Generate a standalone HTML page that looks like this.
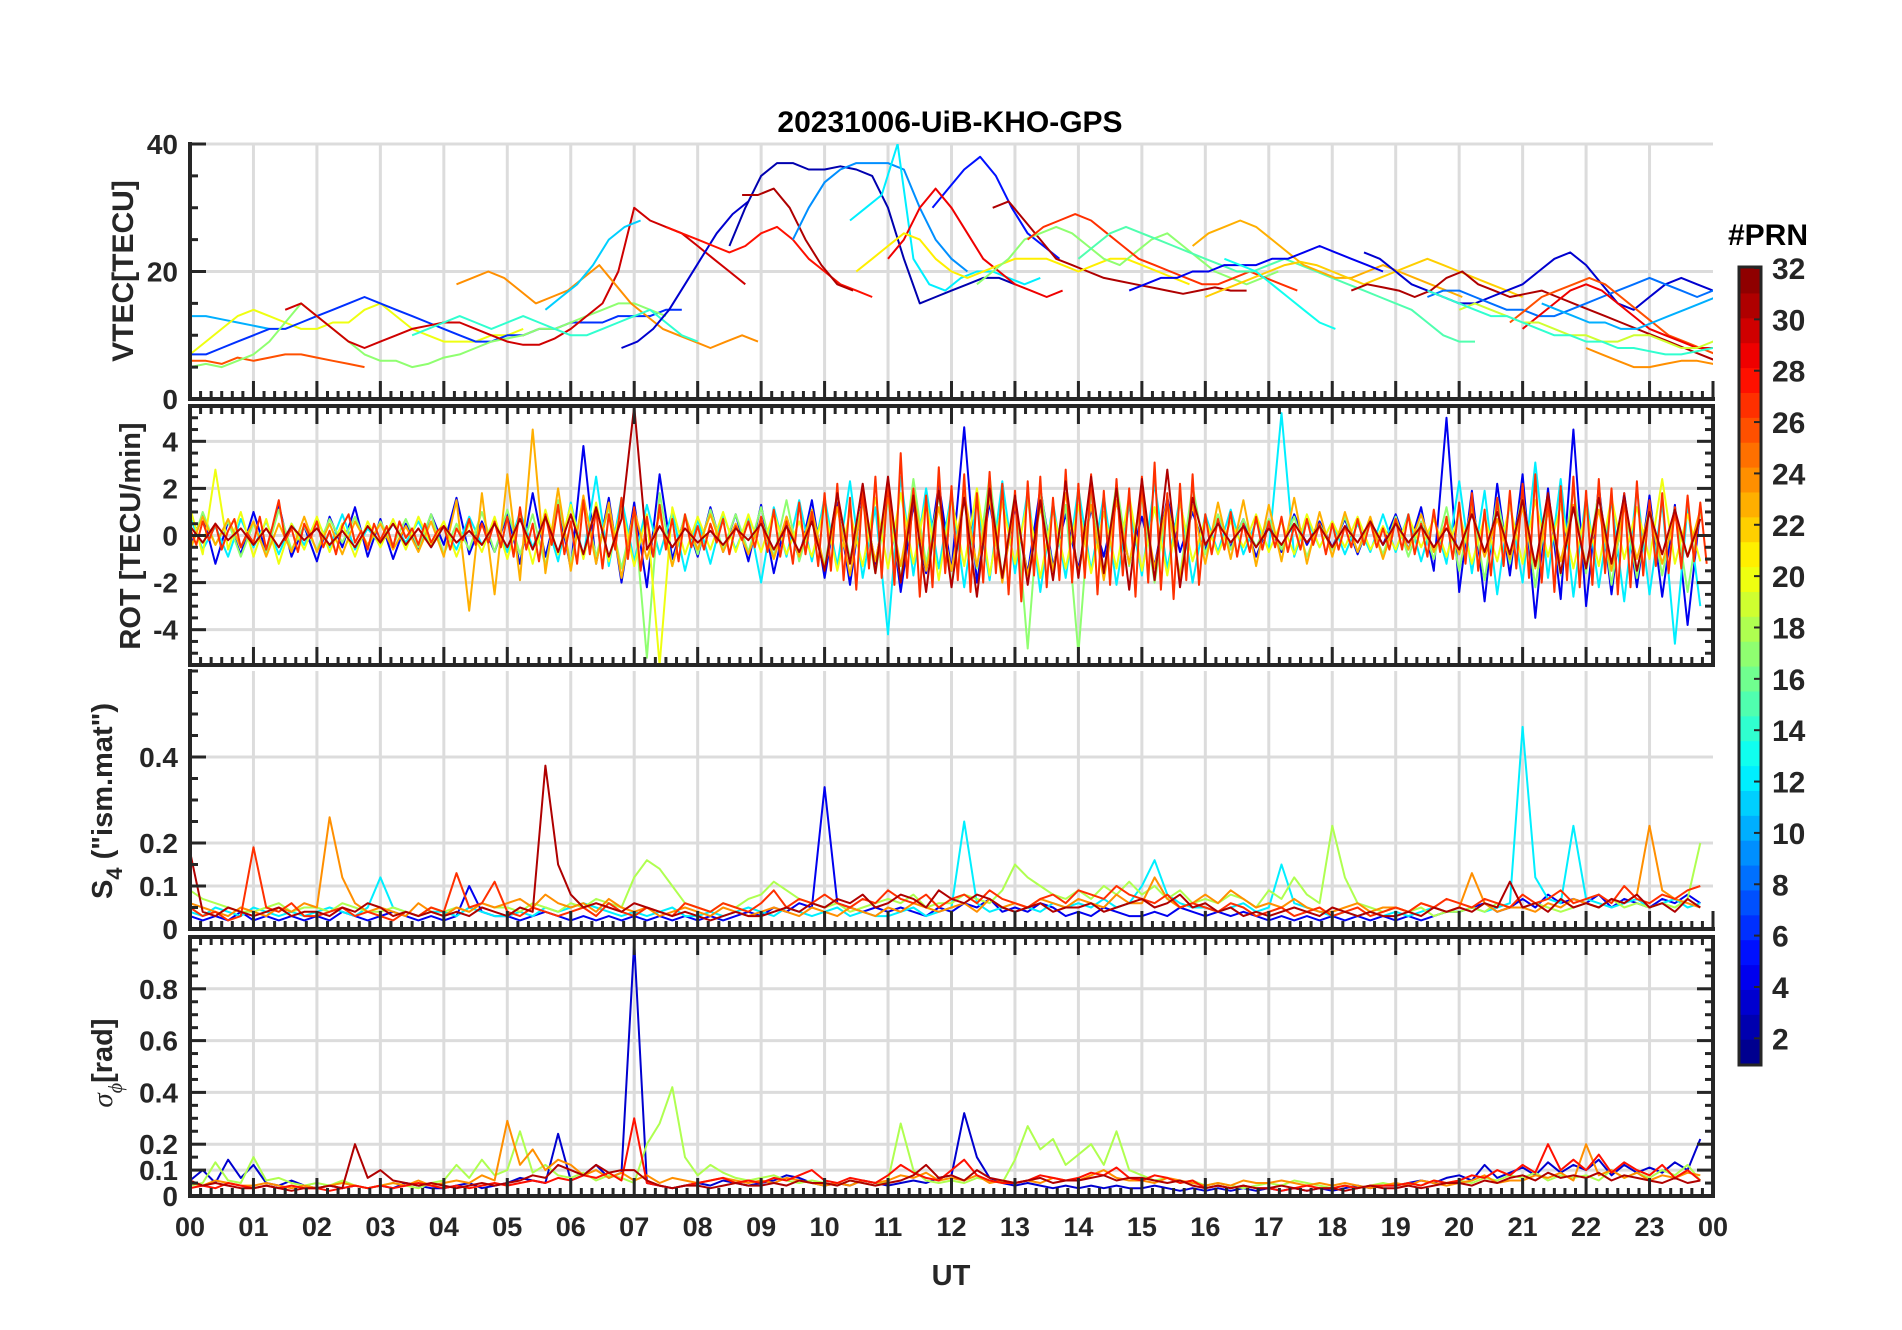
<!DOCTYPE html>
<html><head><meta charset="utf-8"><title>20231006-UiB-KHO-GPS</title>
<style>
html,body{margin:0;padding:0;background:#fff;}
svg{display:block;font-family:"Liberation Sans",Arial,sans-serif;}
</style></head>
<body>
<svg id="fig" width="1902" height="1330" viewBox="0 0 1902 1330" xmlns="http://www.w3.org/2000/svg">
<rect x="0" y="0" width="1902" height="1330" fill="#fff"/>
<text x="950" y="132" text-anchor="middle" font-size="30" font-weight="bold" fill="#000">20231006-UiB-KHO-GPS</text>
<g id="panels"></g>
<text x="951" y="1285" text-anchor="middle" font-size="29" font-weight="bold" fill="#262626">UT</text>
<text transform="translate(133,271) rotate(-90)" text-anchor="middle" font-size="30" font-weight="bold" fill="#262626">VTEC[TECU]</text>
<text transform="translate(140,536) rotate(-90)" text-anchor="middle" font-size="29" font-weight="bold" fill="#262626">ROT [TECU/min]</text>
<text transform="translate(112,801) rotate(-90)" text-anchor="middle" font-size="29" font-weight="bold" fill="#262626">S<tspan font-size="22" dy="10">4</tspan><tspan dy="-10"> ("ism.mat")</tspan></text>
<text transform="translate(112,1063) rotate(-90)" text-anchor="middle" font-size="29" font-weight="bold" fill="#262626"><tspan font-family="Liberation Serif,serif" font-style="italic" font-weight="normal">σ</tspan><tspan font-family="Liberation Serif,serif" font-style="italic" font-weight="normal" font-size="20" dy="10">ϕ</tspan><tspan dy="-10">[rad]</tspan></text>
<g id="colorbar"></g>
<text x="1768" y="245" text-anchor="middle" font-size="30" font-weight="bold" fill="#000">#PRN</text>
</svg>
<script>
// ---------------- data ----------------
const hourLabels = ["00","01","02","03","04","05","06","07","08","09","10","11","12","13","14","15","16","17","18","19","20","21","22","23","00"];
const vtecTicks = [0,20,40];
const rotTicks = [-4,-2,0,2,4];
const s4Ticks = [0,0.1,0.2,0.4];
const sigTicks = [0,0.1,0.2,0.4,0.6,0.8];
const prnTicks = [2,4,6,8,10,12,14,16,18,20,22,24,26,28,30,32];

// VTEC arcs: PRN, start hour, values (every 0.25 h)
const vtecPrn = [10,20,6,26,17,30,24,11,14,3,2,28,31,9,12,5,29,31,21,17,27,15,23,4,22,13,31,3,8,26,29,19,10,24,14];
const vtecStart = [0,0,0,0,0,1.5,4.2,5.6,3.5,6.8,8.5,7.5,8.7,9.5,10.4,11.7,11,12.65,10.5,12.4,13.2,14,15.8,14.8,16,16.3,18.3,18.5,19.5,20.8,21,20,21.3,22,19.5];
const vtecValues = [
[13,13,12.5,12,11.5,11],
[7,9,11,13,14,13,12,11,11,12,12,14,15,13,11,10,9,9,9,10,10,11],
[7,7,8,9,10,11,11,12,13,14,15,16,15,14,13,12,11,10,9,9,10,10,11,11,12,12,12,13,13,13,14,14],
[6,6,5.5,6.5,6,6.5,7,7,6.5,6,5.5,5],
[5,5.5,5,6,7,9,12,15,13,11,9,7,6,6,5,5.5,6.5,7,8,9,9.5,10,11,11,12,13,14,15,15,14,13],
[14,15,13,11,9,8,9,10,11,11.5,12,12,11,10,9,8.5,8.5,9.5,11,13,15,20,30,28,27,26,24,22,20,18],
[18,19,20,19,17,15,16,17,19,21,18,15,13,11,10,9,8,9,10,9],
[14,16,18,21,25,27,28],
[10,11,12,13,12,11,12,13,12,11,10,10,11,12,13,14,12,10,9],
[8,9,11,14,18,22,26,29,31],
[24,30,35,37,37,36,36,36.5,36,35,30,22,15,16,17,18,19,19,18],
[27,26,25,24,23,24,26,27,25,22,20,18,17,16],
[32,32,33,30,25,21,18,17],
[25,30,34,36,37,37,37,36,30,25,22,20],
[28,30,32,40,22,18,17,19,20,20,19,18,19],
[30,33,36,38,35,30,26,24,22],
[22,25,30,33,30,26,22,20,18,17,16,17],
[30,31,28,25,22,21,20,19,18.5,18,17.5,17,16.5,17,17.5,17,17],
[20,22,24,26,25,22,20,19,20,21,22,22,22,21,20,21,22,22,21,20,19,18],
[18,20,22,25,26,27,26,24,22,21,23,25,26,24,22,20,19,18,19,20],
[25,27,28,29,28,26,24,22,21,20,19,18,18,19,20,19,18,17],
[22,24,26,27,26,25,24,23,22,21,20,20,21,22,21,20,19,18,17,16,15,14,12,10,9,9],
[24,26,27,28,27,25,23,21,20,19,19,20,21,20,19,18,17,16],
[17,18,19,19,20,20,21,21,21,22,22,23,24,23,22,21,20],
[16,17,18,19,20,21,21.5,21,20,19,18,19,20,21,22,21,20,19,18,17,16],
[22,21,20,18,16,14,12,11],
[17,18,17.5,17,16,17,19,20,18,17,16,16.5,17,16,15,14,13,12,11,10,9,8,7,6,5,5,4,5,5,6,6,6,6],
[23,22,20,18,17,16,15,15,16,17,18,20,22,23,21,18,15,14,16,18,19,18,17,16,15,16,17,18,19,17,14,12],
[16,17,17,16,15,14,14,13,13,14,15,16,17,18,19,18,17,16,17,18,18,17,16,14,12,10],
[12,14,16,17,18,19,18,16,14,12,10,9,8,7,7,6,6,7,7,8],
[11,13,15,17,18,17,15,13,11,10,9,8,8,7.5,7,7,6.5,6],
[14,15,14,13,12,12,11,10,10,9,9,10,10,9,8,8,9,10,11,12],
[15,14,13,12,12,11,11,12,13,14,15,16,15,14,12,11,10,9,8,8.5],
[8,7,6,5,5,5.5,6,6,5.5,6,7,8,9,9,9,8],
[17,16,15,14,13,13,12,11,10,10,9,9,8,8,7.5,7,7,7.5,8,8.5]
];

// ROT series (TECU/min)
const rotPrn = [4,12,17,20,23,27,31];
const rotStep = [0.2,0.2,0.2,0.2,0.2,0.1,0.2];
const rotBlue = [-0.5,0.9,-1.2,0.6,-0.8, 1.0,-0.7,1.3,-0.9,0.4, -1.1,0.8,-0.5,1.2,-0.9, 0.7,-1.0,0.5,-0.6,0.9, -0.4,1.6,-0.8,0.6,-0.7, 0.9,-1.2,1.8,-0.9,1.3, -1.4,3.8,-1.2,1.6,-2.0, 1.4,-2.2,2.6,-1.0,0.8, -0.9,1.2,-0.7,0.9,-1.1, 1.3,-1.6,0.8,-1.0,1.5, -1.8,1.4,-2.1,1.7,-1.2, 1.9,-2.4,1.3,-1.6,2.2, -1.5,4.6,-2.0,1.4,-1.8, 1.2,-1.6,2.0,-1.3,0.9, -1.4,1.1,-0.9,1.5,-1.2, 0.8,-1.3,1.6,-0.7,1.0, -0.6,0.8,-0.5,0.7,-0.9, 0.5,-0.7,0.9,-0.4,0.6, -0.5,0.7,-0.8,0.6,-0.4, 0.9,-0.6,1.2,-1.5,5.0, -2.4,1.9,-2.8,2.2,-1.7, 2.6,-3.5,2.0,-2.7,4.5, -3.0,2.1,-2.5,1.8,-2.2, 1.7,-2.6,1.3,-3.8,1.1];
const rotCyan = [0.8,-0.6,0.4,-0.9,0.7, -0.5,0.6,-0.8,0.5,-0.4, 0.7,-0.5,0.9,-0.6,0.3, -0.4,0.5,-0.3,0.6,-0.5, 0.4,-0.6,0.8,-0.4,0.5, -0.7,1.0,-0.5,0.8,-1.1, 1.4,-0.9,2.5,-1.3,1.6, -1.1,1.3,-0.8,1.0,-1.5, 0.7,-1.2,0.9,-0.6,0.8, -2.0,1.2,-0.9,1.5,-1.1, 1.6,-1.3,2.3,-1.8,1.2, -4.2,2.5,-1.7,2.0,-1.4, 1.8,-2.2,1.5,-1.9,2.3, -1.6,1.9,-2.4,1.4,-1.8, 2.0,-1.5,1.7,-2.1,1.3, -1.7,2.2,-1.4,1.6,-2.0, 0.9,-0.7,1.1,-0.8,0.6, -0.6,5.2,-0.9,0.7,-0.5, 0.6,-0.8,0.5,-0.7,0.9, -0.7,0.9,-1.1,0.8,-1.2, 2.3,-1.6,1.9,-2.5,1.4, -2.0,3.1,-1.8,2.4,-2.6, 1.7,-2.2,1.5,-2.8,2.0, -2.5,1.4,-4.6,1.2,-3.0];
const rotGreen = [-0.7,1.0,-0.4,0.6,-0.9, 0.5,-0.8,1.1,-0.6,0.4, -0.6,0.7,-0.3,0.8,-0.5, 0.6,-0.4,0.7,-0.5,0.9, -0.8,0.5,-0.6,1.0,-0.7, 1.1,-0.8,0.9,-1.3,1.5, -1.2,1.6,-0.9,1.2,-1.4, 1.0,-5.2,1.8,-1.3,0.9, -0.8,1.1,-0.6,0.9,-0.7, 1.2,-0.9,1.5,-1.1,0.8, -1.3,1.7,-1.0,1.4,-1.6, 1.5,-1.9,2.4,-1.2,1.7, -2.1,1.6,-1.4,2.5,-1.8, 1.8,-4.8,2.0,-1.5,1.3, -5.0,1.9,-1.6,2.2,-1.3, 1.6,-2.0,1.3,-1.7,2.1, -0.8,0.9,-0.6,0.7,-0.5, 0.7,-0.6,0.8,-0.9,0.5, -0.6,0.8,-0.7,0.5,-0.8, 0.8,-0.9,0.6,-1.0,1.2, -1.5,1.3,-1.9,1.6,-1.2, 1.8,-2.2,1.5,-1.7,2.0, -1.6,1.9,-2.1,1.4,-1.8, 1.3,-1.7,1.2,-2.4,1.0];
const rotYellow = [1.2,-0.8,2.8,-0.6,1.0, -0.9,0.7,-1.2,0.5,-0.6, 0.8,-0.7,0.5,-0.9,0.6, -0.5,0.7,-0.6,0.8,-0.4, 0.6,-0.9,0.5,-0.7,0.8, -1.0,0.9,-1.2,1.1,-0.8, 1.3,-1.0,1.4,-1.1,1.2, -1.3,0.9,-5.5,1.2,-0.8, 0.8,-0.6,1.0,-0.7,0.9, -0.7,1.0,-0.8,0.6,-0.9, 1.2,-1.5,1.0,-1.3,1.6, -1.4,1.8,-1.2,1.5,-1.9, 1.6,-1.3,2.0,-1.7,1.4, -1.2,1.5,-1.8,1.1,-1.4, 1.3,-1.6,1.0,-1.4,1.7, -1.5,1.2,-1.7,1.4,-1.1, 0.7,-0.8,0.6,-0.5,0.9, -0.7,0.6,-0.8,0.9,-0.5, 0.6,-0.5,0.8,-0.6,0.4, -0.6,0.8,-0.5,0.7,-0.9, 1.0,-1.2,0.8,-1.1,1.3, -1.2,1.5,-0.9,1.3,-1.4, 1.1,-1.3,1.6,-1.0,1.2, -1.0,2.4,-1.2,0.9,-1.1];
const rotOrange = [-0.6,0.8,-0.4,0.7,-0.5, 0.6,-0.9,0.5,-0.7,0.8, -0.7,0.5,-0.8,0.6,-0.4, 0.5,-0.6,0.4,-0.7,0.6, -0.9,1.5,-3.2,1.8,-2.5, 2.6,-1.9,4.5,-1.6,2.0, -1.5,1.7,-1.2,1.4,-1.8, 1.1,-1.0,0.9,-1.3,0.8, -0.6,0.9,-0.7,0.5,-0.8, 0.7,-1.0,0.8,-0.9,1.1, -1.4,1.2,-1.7,1.5,-1.1, 1.6,-1.3,1.9,-1.5,1.2, -1.5,1.8,-1.3,1.6,-2.0, 1.4,-1.7,1.2,-1.5,1.8, -1.6,1.3,-1.9,1.5,-1.2, 1.7,-1.4,1.5,-1.8,1.3, -1.2,1.4,-1.0,1.5,-1.3, 1.3,-1.1,1.6,-1.2,1.0, -0.9,1.0,-0.7,0.8,-1.0, 0.7,-0.6,0.9,-0.7,0.6, -0.8,1.1,-0.9,0.7,-1.0, 1.2,-1.4,1.0,-1.1,1.3, -1.3,1.1,-1.5,1.2,-1.0, 1.0,-1.2,0.8,-0.9,1.1];
const rotRed = [0.3,-0.4,0.6,-0.2,0.5,-0.6,0.2,0.7,-0.5,0.1, -0.3,0.8,-0.6,0.4,1.5,-0.2,0.3,-0.7,0.5,-0.1, 0.6,-0.5,0.2,-0.8,0.4,0.9,-0.3,0.2,-0.6,0.5, -0.2,0.4,-0.5,0.6,-0.1,0.3,-0.4,0.5,-0.3,0.2, 0.4,-0.6,0.3,-0.2,0.7,-0.4,0.5,-0.3,0.6,-0.5, 0.8,-0.9,1.2,-0.6,0.5,-1.1,0.9,-0.4,1.3,-0.8, 0.6,-1.2,1.5,-0.8,1.1,-1.4,0.9,-0.6,1.6,-1.0, 1.2,-1.5,0.8,-0.9,1.3,-0.6,0.7,-1.1,0.9,-0.5, 0.4,-0.6,0.5,-0.3,0.7,-0.8,0.4,-0.2,0.6,-0.5, 0.8,-0.7,1.1,-0.9,0.6,-1.2,1.4,-0.8,1.0,-1.3, 1.8,-1.5,2.2,-1.9,1.6,-2.3,2.0,-1.4,2.5,-1.8, 2.4,-2.1,3.5,-1.8,2.0,-2.6,1.7,-2.2,2.9,-1.6, 2.1,-1.9,2.6,-2.4,1.8,-2.0,2.7,-1.6,2.2,-2.5, 1.9,-2.8,2.3,-1.7,2.5,-2.2,1.6,-1.9,2.8,-2.0, 2.2,-1.8,2.6,-2.5,1.9,-2.1,2.4,-1.7,2.0,-2.6, 2.5,-2.0,3.1,-2.3,1.8,-2.7,2.2,-1.9,2.6,-2.1, 0.9,-0.8,0.7,-0.6,1.0,-0.9,0.5,-0.7,0.8,-0.6, 0.6,-0.5,0.8,-0.7,0.4,-0.6,0.7,-0.4,0.5,-0.8, 0.5,-0.6,0.4,-0.5,0.7,-0.4,0.6,-0.5,0.3,-0.6, 0.7,-0.6,0.9,-0.8,0.5,-0.9,1.1,-0.7,0.8,-1.0, 1.4,-1.2,1.8,-1.5,1.1,-1.7,1.6,-1.3,1.9,-1.4, 2.2,-1.8,2.6,-2.0,1.7,-2.4,2.1,-1.9,2.5,-2.2, 1.9,-2.1,2.4,-1.6,2.0,-2.5,1.8,-2.2,2.3,-1.7, 1.5,-1.3,1.8,-1.6,1.2,-1.4,1.7,-1.1,1.4,-1.2];
const rotDarkRed = [0.4,-0.3,0.5,-0.2,0.3, -0.4,0.3,-0.5,0.4,-0.2, 0.3,-0.4,0.2,-0.5,0.4, -0.3,0.5,-0.4,0.3,-0.5, 0.4,-0.3,0.2,-0.4,0.5, -0.5,0.7,-0.6,0.8,-0.7, 0.9,-0.8,1.2,-0.9,0.7, 5.5,-0.6,0.4,-0.5,0.3, -0.3,0.2,-0.4,0.3,-0.2, 0.5,-0.6,0.4,-0.7,0.6, -1.5,1.8,-1.2,2.2,-1.6, 2.5,-2.0,1.7,-2.4,1.9, -2.2,1.6,-2.6,2.0,-1.8, 1.7,-2.1,1.5,-1.9,2.3, -1.8,2.5,-1.6,2.0,-2.3, 2.4,-1.9,2.8,-2.2,1.6, -0.4,0.5,-0.3,0.4,-0.5, 0.3,-0.4,0.5,-0.3,0.4, -0.5,0.4,-0.3,0.6,-0.4, 0.5,-0.3,0.4,-0.5,0.3, -0.6,0.9,-0.7,1.0,-0.8, 1.5,-1.3,1.8,-1.6,1.2, -1.4,1.6,-1.2,1.7,-1.5, 1.0,-0.8,1.1,-0.9,0.7];

// S4 series (every 0.2 h)
const s4Prn = [4,12,18,24,27,31];
const s4Blue = [.03,.02,.03,.02,.04, .02,.03,.02,.03,.02, .03,.02,.04,.03,.02, .03,.04,.03,.02,.03, .02,.03,.10,.04,.03, .03,.02,.03,.04,.03, .02,.03,.02,.03,.02, .03,.02,.03,.02,.03, .02,.03,.02,.03,.04, .03,.05,.04,.06,.05, .33,.06,.05,.04,.05, .04,.05,.04,.03,.05, .04,.06,.05,.07,.04, .05,.04,.06,.05,.03, .04,.03,.05,.04,.03, .03,.04,.03,.05,.04, .03,.04,.03,.04,.03, .02,.03,.02,.03,.02, .03,.02,.03,.02,.03, .02,.03,.02,.03,.04, .04,.05,.06,.04,.05, .07,.05,.08,.06,.07, .06,.08,.05,.07,.06, .05,.07,.06,.08,.06];
const s4Cyan = [.04,.03,.05,.04,.03, .05,.04,.03,.04,.03, .04,.05,.04,.03,.05, .12,.05,.04,.03,.04, .04,.03,.05,.04,.03, .03,.04,.03,.05,.04, .05,.06,.05,.04,.03, .04,.03,.04,.05,.03, .03,.04,.03,.04,.05, .04,.03,.05,.04,.03, .04,.05,.03,.04,.03, .03,.04,.05,.03,.04, .05,.25,.06,.04,.05, .04,.05,.04,.06,.05, .06,.05,.07,.05,.06, .10,.16,.08,.06,.05, .05,.04,.05,.06,.04, .05,.15,.06,.05,.04, .03,.04,.03,.04,.03, .04,.03,.04,.05,.04, .04,.05,.04,.05,.06, .47,.12,.07,.06,.24, .07,.06,.05,.06,.07, .05,.06,.07,.05,.06];
const s4Green = [.09,.07,.06,.05,.04, .04,.05,.06,.04,.05, .05,.04,.06,.05,.04, .04,.05,.04,.03,.05, .04,.05,.04,.06,.05, .05,.04,.06,.05,.04, .06,.05,.07,.06,.05, .12,.16,.14,.10,.06, .05,.04,.06,.05,.07, .08,.11,.09,.07,.06, .05,.06,.04,.05,.06, .07,.06,.08,.05,.06, .06,.08,.07,.06,.09, .15,.12,.10,.08,.07, .09,.07,.10,.08,.11, .08,.10,.07,.09,.06, .07,.06,.08,.07,.05, .09,.07,.12,.08,.06, .24,.12,.06,.05,.04, .05,.04,.05,.03,.04, .04,.05,.04,.06,.05, .05,.06,.05,.04,.05, .06,.05,.07,.05,.06, .05,.06,.05,.07,.20];
const s4Orange = [.06,.05,.04,.03,.05, .04,.03,.05,.04,.06, .05,.26,.12,.06,.04, .05,.04,.03,.06,.04, .03,.05,.04,.06,.05, .06,.07,.05,.08,.06, .05,.06,.04,.07,.05, .04,.05,.03,.04,.05, .04,.03,.05,.04,.03, .04,.05,.04,.03,.05, .04,.03,.05,.04,.03, .05,.04,.06,.05,.04, .05,.06,.04,.07,.05, .06,.05,.07,.06,.05, .07,.06,.05,.08,.06, .06,.12,.07,.05,.06, .08,.06,.09,.07,.05, .06,.05,.07,.05,.04, .04,.05,.06,.04,.05, .05,.04,.06,.05,.04, .05,.13,.06,.04,.05, .05,.04,.06,.05,.07, .06,.05,.07,.06,.08, .24,.09,.07,.06,.05];
const s4Red = [.05,.03,.04,.02,.03, .19,.05,.04,.06,.03, .03,.04,.05,.03,.04, .03,.02,.04,.03,.05, .04,.13,.05,.06,.11, .04,.03,.05,.04,.03, .04,.05,.03,.06,.04, .03,.05,.04,.03,.06, .05,.04,.06,.05,.04, .06,.09,.05,.07,.06, .08,.06,.05,.07,.06, .09,.07,.06,.08,.05, .07,.08,.06,.09,.07, .06,.05,.07,.08,.06, .09,.08,.07,.10,.08, .07,.06,.08,.05,.06, .05,.04,.06,.05,.03, .04,.05,.03,.04,.05, .03,.04,.05,.03,.04, .05,.04,.06,.05,.07, .06,.05,.07,.06,.05, .08,.06,.07,.09,.06, .07,.08,.06,.10,.07, .06,.08,.07,.09,.10];
const s4DarkRed = [.18,.04,.03,.05,.04, .03,.04,.05,.03,.04, .04,.03,.05,.04,.06, .05,.03,.04,.03,.04, .03,.04,.03,.05,.04, .03,.05,.04,.38,.15, .08,.05,.06,.05,.04, .06,.05,.04,.03,.04, .03,.02,.03,.04,.03, .03,.04,.05,.04,.06, .05,.07,.06,.08,.05, .06,.08,.07,.05,.09, .07,.06,.08,.07,.05, .04,.05,.06,.04,.05, .05,.06,.04,.05,.06, .07,.05,.06,.08,.05, .06,.04,.05,.03,.04, .03,.04,.05,.04,.03, .05,.04,.03,.04,.03, .03,.04,.03,.05,.04, .05,.04,.06,.05,.11, .05,.06,.04,.07,.05, .06,.05,.07,.06,.08, .05,.06,.04,.07,.05];

// sigma-phi series (every 0.2 h)
const sigPrn = [3,18,24,28,31];
const sigBlue = [.06,.10,.05,.14,.07, .12,.05,.04,.06,.04, .03,.04,.03,.04,.03, .04,.03,.05,.04,.03, .03,.04,.05,.03,.04, .05,.07,.06,.05,.24, .06,.08,.12,.07,.09, .98,.05,.04,.03,.04, .05,.04,.06,.05,.04, .05,.06,.08,.07,.05, .04,.05,.04,.06,.05, .04,.05,.06,.05,.07, .08,.32,.15,.07,.05, .04,.05,.04,.03,.04, .03,.04,.03,.04,.03, .03,.04,.03,.02,.03, .02,.03,.02,.03,.02, .03,.02,.03,.02,.03, .02,.03,.04,.03,.04, .04,.05,.06,.05,.07, .08,.06,.12,.07,.09, .11,.08,.13,.09,.12, .10,.14,.08,.12,.09, .11,.09,.13,.10,.22];
const sigGreen = [.04,.05,.13,.06,.05, .15,.06,.07,.05,.04, .05,.04,.06,.04,.03, .04,.05,.04,.03,.05, .06,.12,.07,.14,.08, .10,.25,.09,.12,.08, .07,.09,.06,.08,.07, .05,.20,.28,.42,.15, .08,.12,.09,.07,.06, .07,.08,.06,.05,.06, .05,.04,.06,.05,.04, .06,.28,.10,.06,.05, .06,.05,.07,.06,.05, .14,.27,.18,.22,.12, .16,.20,.12,.25,.10, .08,.06,.07,.05,.06, .04,.05,.04,.03,.04, .05,.04,.06,.05,.04, .03,.04,.03,.04,.05, .04,.05,.04,.06,.05, .06,.05,.07,.06,.08, .07,.09,.06,.08,.07, .08,.06,.10,.07,.09, .07,.10,.08,.12,.06];
const sigOrange = [.05,.04,.06,.05,.04, .04,.05,.04,.03,.04, .03,.04,.05,.04,.03, .04,.05,.04,.06,.04, .05,.06,.05,.08,.06, .29,.12,.18,.10,.14, .12,.08,.10,.07,.09, .06,.08,.05,.07,.06, .05,.06,.07,.06,.05, .06,.05,.07,.06,.05, .04,.05,.04,.06,.05, .06,.08,.07,.09,.06, .07,.06,.08,.05,.06, .05,.06,.05,.07,.06, .06,.08,.10,.07,.06, .06,.05,.07,.06,.05, .04,.05,.04,.06,.05, .05,.06,.05,.04,.05, .04,.05,.04,.03,.04, .05,.04,.06,.05,.04, .05,.06,.08,.05,.06, .06,.08,.07,.09,.06, .20,.08,.10,.07,.09, .06,.08,.07,.09,.08];
const sigRed = [.03,.04,.03,.05,.04, .03,.04,.03,.04,.03, .03,.02,.03,.04,.03, .04,.03,.04,.05,.04, .03,.04,.03,.04,.05, .04,.05,.06,.05,.07, .06,.08,.07,.09,.06, .30,.05,.04,.03,.04, .05,.06,.07,.05,.06, .05,.07,.06,.08,.10, .06,.05,.07,.06,.05, .08,.12,.09,.07,.06, .10,.14,.08,.06,.05, .05,.06,.08,.07,.06, .07,.09,.08,.11,.07, .06,.08,.07,.05,.06, .03,.04,.03,.04,.03, .03,.02,.03,.04,.03, .03,.04,.03,.04,.04, .04,.05,.04,.06,.05, .06,.08,.07,.10,.08, .12,.09,.20,.10,.14, .10,.16,.09,.13,.10, .08,.12,.07,.10,.06];
const sigDarkRed = [.06,.04,.05,.04,.03, .03,.04,.03,.02,.03, .03,.04,.03,.20,.07, .10,.06,.05,.04,.05, .04,.03,.04,.05,.04, .05,.06,.08,.07,.12, .10,.08,.12,.09,.10, .10,.06,.04,.03,.04, .04,.03,.04,.05,.04, .04,.05,.04,.06,.05, .05,.04,.06,.05,.04, .05,.06,.08,.12,.07, .08,.06,.10,.07,.06, .05,.06,.07,.05,.06, .06,.07,.08,.06,.07, .07,.06,.05,.06,.04, .03,.04,.03,.04,.03, .03,.04,.03,.02,.03, .03,.02,.03,.04,.03, .03,.04,.03,.04,.05, .05,.04,.06,.05,.07, .08,.06,.09,.07,.08, .07,.09,.06,.08,.07, .06,.05,.07,.05,.06];

// ---------------- drawing ----------------
const NS = "http://www.w3.org/2000/svg";
const X0 = 190, X1 = 1713;
const AX = "#262626", GRID = "#dcdcdc";
function xs(h){ return X0 + (h/24)*(X1-X0); }
function jet(p){
  const t = (p-0.5)/32;
  const c = v => Math.round(255*Math.max(0,Math.min(1,v)));
  return "rgb("+c(1.5-Math.abs(4*t-3))+","+c(1.5-Math.abs(4*t-2))+","+c(1.5-Math.abs(4*t-1))+")";
}
function mk(tag, attrs, parent){
  const e = document.createElementNS(NS, tag);
  for (const k in attrs) e.setAttribute(k, attrs[k]);
  parent.appendChild(e);
  return e;
}
const root = document.getElementById("panels");
const panels = [
  {key:"vtec", top:144, bot:399, min:0, max:40, ticks:vtecTicks, grid:[20,40], minor:5, box:false, fmt:v=>String(v)},
  {key:"rot", top:406, bot:665, min:-5.5, max:5.5, ticks:rotTicks, grid:[-4,-2,0,2,4], minor:0.5, box:true, fmt:v=>String(v)},
  {key:"s4", top:671, bot:929, min:0, max:0.6, ticks:s4Ticks, grid:[0.1,0.2,0.4], minor:0.05, box:false, fmt:v=>String(v)},
  {key:"sigma", top:937, bot:1196, min:0, max:1, ticks:sigTicks, grid:[0.1,0.2,0.4,0.6,0.8], minor:0.05, box:true, fmt:v=>String(v)}
];
function ys(p, v){ return p.bot - (v-p.min)/(p.max-p.min)*(p.bot-p.top); }

panels.forEach((p, pi) => {
  const g = mk("g", {}, root);
  
  
  const cp = mk("clipPath", {id:"clip"+pi}, g);
  mk("rect", {x:X0, y:p.top, width:X1-X0, height:p.bot-p.top}, cp);
  // grid
  const gg = mk("g", {stroke:GRID, "stroke-width":3}, g);
  
  
  for (let h=1; h<24; h++) mk("line", {x1:xs(h), x2:xs(h), y1:p.top, y2:p.bot}, gg);
  p.grid.forEach(v => mk("line", {x1:X0, x2:X1, y1:ys(p,v), y2:ys(p,v)}, gg));
  if (p.box) { mk("line", {x1:xs(24), x2:xs(24), y1:p.top, y2:p.bot}, gg); }
  // series
  const sg = mk("g", {"clip-path":"url(#clip"+pi+")", fill:"none", "stroke-width":2, "stroke-linejoin":"round"}, g);
  
  
  p.sg = sg;
  // axes
  const ag = mk("g", {stroke:AX, "stroke-width":2}, g);
  
  
  p.ag = ag;
});

function line(p, prn, start, step, vals, name){
  let d = "";
  vals.forEach((v,i) => {
    const yv = Math.max(p.min-1, Math.min(p.max+1, v));
    d += (i?"L":"M") + xs(start + i*step).toFixed(1) + "," + ys(p, yv).toFixed(1);
  });
  const path = mk("path", {d:d, stroke:jet(prn)}, p.sg);
  
  
}
// VTEC
vtecValues.forEach((vals, i) => line(panels[0], vtecPrn[i], vtecStart[i], 0.25, vals, 'vtec-arc-prn' + vtecPrn[i]));
// ROT
[rotBlue, rotCyan, rotGreen, rotYellow, rotOrange, rotRed, rotDarkRed].forEach((vals, i) => line(panels[1], rotPrn[i], 0, rotStep[i], vals, 'rot-series-prn' + rotPrn[i]));
// S4
[s4Blue, s4Cyan, s4Green, s4Orange, s4Red, s4DarkRed].forEach((vals, i) => line(panels[2], s4Prn[i], 0, 0.2, vals, 's4-series-prn' + s4Prn[i]));
// sigma phi
[sigBlue, sigGreen, sigOrange, sigRed, sigDarkRed].forEach((vals, i) => line(panels[3], sigPrn[i], 0, 0.2, vals, 'sigma-phi-series-prn' + sigPrn[i]));

// axes, ticks, labels
panels.forEach((p, pi) => {
  const ag = p.ag;
  // frame
  mk("line", {x1:X0, x2:X0, y1:p.top-2, y2:p.bot+2, "stroke-width":4}, ag);
  mk("line", {x1:X0-2, x2:X1+2, y1:p.bot, y2:p.bot, "stroke-width":4}, ag);
  if (p.box) {
    mk("line", {x1:X0-2, x2:X1+2, y1:p.top, y2:p.top, "stroke-width":4}, ag);
    mk("line", {x1:X1, x2:X1, y1:p.top, y2:p.bot, "stroke-width":4}, ag);
  }
  // x ticks
  for (let k=0; k<=144; k++) {
    const x = xs(k/6), L = (k%6===0) ? 18 : 8, w = (k%6===0) ? 3 : 3;
    mk("line", {x1:x, x2:x, y1:p.bot, y2:p.bot-L, "stroke-width":w}, ag);
    if (p.box) mk("line", {x1:x, x2:x, y1:p.top, y2:p.top+L, "stroke-width":w}, ag);
  }
  // y ticks
  const n = Math.round((p.max-p.min)/p.minor);
  for (let k=0; k<=n; k++) {
    const v = p.min + k*p.minor;
    const major = p.ticks.some(t => Math.abs(t-v) < 1e-6);
    const L = major ? 16 : 8;
    mk("line", {x1:X0, x2:X0+L, y1:ys(p,v), y2:ys(p,v), "stroke-width":3}, ag);
    if (p.box) mk("line", {x1:X1, x2:X1-L, y1:ys(p,v), y2:ys(p,v), "stroke-width":3}, ag);
  }
  p.ticks.forEach(v => {
    const t = mk("text", {x:178, y:ys(p,v)+10, "text-anchor":"end", "font-size":28, "font-weight":"bold", fill:AX, stroke:"none"}, root);
    t.textContent = p.fmt(v);
    
    
  });
});
hourLabels.forEach((lab, i) => {
  const t = mk("text", {x:xs(i), y:1236, "text-anchor":"middle", "font-size":27, "font-weight":"bold", fill:AX}, root);
  t.textContent = lab;
  
  
});

// colorbar
const cb = document.getElementById("colorbar");
const CB_X = 1740, CB_W = 20, CB_TOP = 268, CB_BOT = 1064;
function cy(v){ return CB_BOT - (v-1)/31*(CB_BOT-CB_TOP); }
for (let p=1; p<=32; p++) {
  const y0 = CB_TOP + (32-p)*(CB_BOT-CB_TOP)/32;
  const r = mk("rect", {x:CB_X, y:y0, width:CB_W, height:(CB_BOT-CB_TOP)/32+0.6, fill:jet(p)}, cb);
  
  
}
mk("rect", {x:CB_X-1, y:CB_TOP-1, width:CB_W+2, height:CB_BOT-CB_TOP+2, fill:"none", stroke:AX, "stroke-width":3}, cb);
prnTicks.forEach(v => {
  mk("line", {x1:CB_X+CB_W-6, x2:CB_X+CB_W, y1:cy(v), y2:cy(v), stroke:AX, "stroke-width":2}, cb);
  const t = mk("text", {x:1772, y:cy(v)+11, "font-size":30, "font-weight":"bold", fill:AX}, cb);
  t.textContent = String(v);
  
  
});
</script>
</body></html>
